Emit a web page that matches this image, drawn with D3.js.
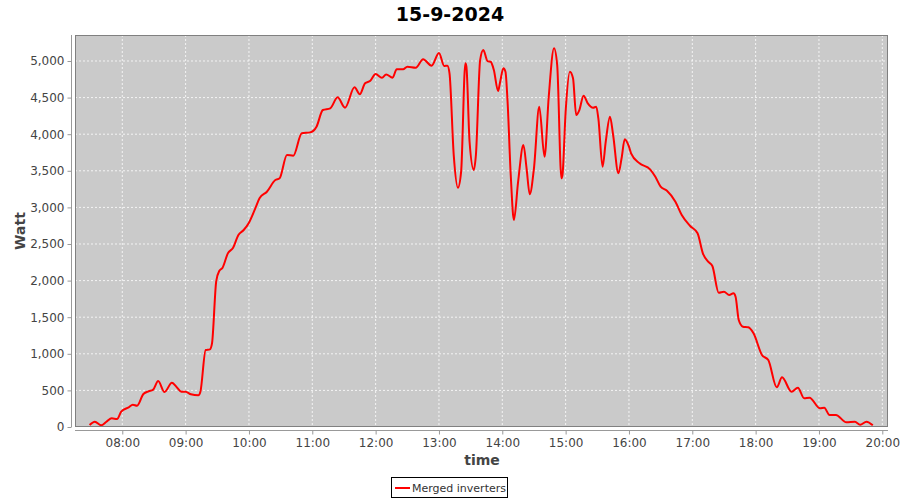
<!DOCTYPE html>
<html>
<head>
<meta charset="utf-8">
<script src="https://cdn.jsdelivr.net/npm/d3@7"></script>
<style>
  html, body { margin: 0; padding: 0; background: #ffffff; }
  svg { display: block; font-family: "DejaVu Sans", sans-serif; }
</style>
</head>
<body>
<svg id="chart" width="900" height="500"></svg>
<script>
const title = "15-9-2024";
const seriesName = "Merged inverters";
const yLabel = "Watt";
const xLabel = "time";

const times = [
  "07:29","07:34","07:40","07:45","07:50","07:55","07:59","08:06","08:10","08:14",
  "08:20","08:25","08:29","08:34","08:40","08:47","08:52","08:56","09:00","09:05",
  "09:12","09:14","09:19","09:23","09:25","09:29","09:32","09:35","09:40","09:45",
  "09:50","09:55","10:00","10:06","10:10","10:17","10:25","10:29","10:36","10:42",
  "10:50","10:58","11:04","11:10","11:17","11:24","11:31","11:40","11:45","11:50",
  "11:55","12:00","12:06","12:10","12:16","12:20","12:26","12:30","12:38","12:45",
  "12:53","13:00","13:05","13:08","13:10","13:14","13:18","13:21","13:25","13:26",
  "13:29","13:33","13:35","13:39","13:42","13:46","13:49","13:52","13:56","13:58",
  "14:01","14:03","14:05","14:08","14:11","14:15","14:20","14:23","14:26","14:30",
  "14:35","14:40","14:44","14:49","14:52","14:56","14:57","15:00","15:04","15:07",
  "15:10","15:13","15:17","15:21","15:26","15:29","15:31","15:35","15:38","15:42",
  "15:45","15:50","15:53","15:56","16:00","16:02","16:10","16:20","16:25","16:30",
  "16:36","16:44","16:50","16:58","17:05","17:10","17:15","17:19","17:25","17:30",
  "17:35","17:39","17:41","17:44","17:48","17:53","17:58","18:06","18:12","18:20",
  "18:25","18:34","18:40","18:46","18:51","19:01","19:05","19:10","19:16","19:26",
  "19:34","19:39","19:45","19:51"
];
const watts = [
  27,72,23,72,119,109,209,269,305,291,
  451,488,506,628,478,605,537,482,482,447,
  433,482,1052,1061,1143,1994,2135,2176,2372,2449,
  2623,2691,2791,2987,3124,3214,3374,3397,3716,3706,
  4012,4025,4102,4330,4353,4503,4362,4640,4545,4695,
  4730,4822,4771,4817,4771,4886,4886,4922,4908,5023,
  4936,5110,4931,4936,4831,3715,3269,3488,4968,4922,
  3897,3511,3716,5013,5150,4999,4990,4877,4590,4717,
  4900,4854,4444,3442,2828,3351,3852,3534,3179,3534,
  4375,3692,4512,5173,4945,3397,3442,4307,4854,4763,
  4262,4330,4526,4421,4362,4375,4216,3556,3897,4239,
  3989,3466,3671,3930,3829,3739,3602,3520,3419,3283,
  3228,3078,2896,2746,2646,2373,2258,2199,1835,1848,
  1803,1826,1780,1462,1370,1362,1280,984,915,542,
  679,482,537,392,400,255,264,164,164,64,
  72,31,72,23
];
const xTickLabels = ["08:00","09:00","10:00","11:00","12:00","13:00","14:00","15:00","16:00","17:00","18:00","19:00","20:00"];
const yTicks = [0,500,1000,1500,2000,2500,3000,3500,4000,4500,5000];
const xDomain = ["07:15.2","20:05.4"];
const yDomain = [0, 5355];

function toDate(s) {
  const [h, rest] = s.split(":");
  const m = parseFloat(rest);
  const d = new Date(2024, 8, 15, +h, 0, 0);
  return new Date(d.getTime() + m * 60000);
}

const data = times.map((t, i) => ({ t: toDate(t), v: watts[i] }));

const svg = d3.select("#chart");
const plot = { left: 75, right: 888, top: 35, bottom: 427 };

const x = d3.scaleTime().domain(xDomain.map(toDate)).range([plot.left, plot.right]);
const y = d3.scaleLinear().domain(yDomain).range([plot.bottom, plot.top]);

// title
svg.append("text")
  .attr("x", 450).attr("y", 21)
  .attr("text-anchor", "middle")
  .attr("font-size", 19).attr("font-weight", "bold")
  .attr("fill", "#000")
  .text(title);

// plot background
svg.append("rect")
  .attr("x", plot.left).attr("y", plot.top)
  .attr("width", plot.right - plot.left).attr("height", plot.bottom - plot.top)
  .attr("fill", "#cacaca");

// gridlines
const xTickDates = xTickLabels.map(toDate);
svg.append("g").selectAll("line").data(xTickDates).join("line")
  .attr("x1", d => x(d)).attr("x2", d => x(d))
  .attr("y1", plot.top).attr("y2", plot.bottom)
  .attr("stroke", "#ffffff").attr("stroke-width", 0.8)
  .attr("stroke-dasharray", "2,2");
svg.append("g").selectAll("line").data(yTicks).join("line")
  .attr("x1", plot.left).attr("x2", plot.right)
  .attr("y1", d => y(d)).attr("y2", d => y(d))
  .attr("stroke", "#ffffff").attr("stroke-width", 0.8)
  .attr("stroke-dasharray", "2,2");

// line
const line = d3.line()
  .x(d => x(d.t)).y(d => y(d.v))
  .curve(d3.curveMonotoneX);
svg.append("path")
  .datum(data)
  .attr("d", line)
  .attr("fill", "none")
  .attr("stroke", "#ff0000")
  .attr("stroke-width", 2)
  .attr("stroke-linejoin", "round");

// plot border
svg.append("rect")
  .attr("x", plot.left + 0.5).attr("y", plot.top + 0.5)
  .attr("width", plot.right - plot.left - 1).attr("height", plot.bottom - plot.top - 1)
  .attr("fill", "none").attr("stroke", "#808080").attr("stroke-width", 1);

// y axis
const yAxis = d3.axisLeft(y).tickValues(yTicks).tickSize(4).tickPadding(3)
  .tickFormat(d3.format(","));
const gy = svg.append("g").attr("transform", "translate(71.5,0)").call(yAxis);
gy.select(".domain").attr("stroke", "#999").attr("d", `M0,${plot.top}V${plot.bottom}`);
gy.selectAll(".tick line").attr("stroke", "#999");
gy.selectAll(".tick text").attr("fill", "#444").attr("font-size", 12)
  .attr("font-family", "DejaVu Sans, sans-serif");

// x axis
const xAxis = d3.axisBottom(x).tickValues(xTickDates).tickSize(4).tickPadding(4)
  .tickFormat(d3.timeFormat("%H:%M"));
const gx = svg.append("g").attr("transform", "translate(0,430.5)").call(xAxis);
gx.select(".domain").attr("stroke", "#999").attr("d", `M${plot.left},0H${plot.right}`);
gx.selectAll(".tick line").attr("stroke", "#999");
gx.selectAll(".tick text").attr("fill", "#444").attr("font-size", 12)
  .attr("font-family", "DejaVu Sans, sans-serif");

// axis labels
svg.append("text")
  .attr("x", 482).attr("y", 465)
  .attr("text-anchor", "middle")
  .attr("font-size", 14).attr("font-weight", "bold").attr("fill", "#444")
  .text(xLabel);
svg.append("text")
  .attr("transform", "translate(25,231) rotate(-90)")
  .attr("text-anchor", "middle")
  .attr("font-size", 14).attr("font-weight", "bold").attr("fill", "#444")
  .text(yLabel);

// legend
const lg = svg.append("g");
lg.append("rect")
  .attr("x", 391.5).attr("y", 477.5).attr("width", 116).attr("height", 20)
  .attr("fill", "#fff").attr("stroke", "#000").attr("stroke-width", 1);
lg.append("line")
  .attr("x1", 395).attr("x2", 410).attr("y1", 488).attr("y2", 488)
  .attr("stroke", "#ff0000").attr("stroke-width", 2);
lg.append("text")
  .attr("x", 412).attr("y", 492)
  .attr("font-size", 11).attr("fill", "#333")
  .text(seriesName);
</script>
</body>
</html>
